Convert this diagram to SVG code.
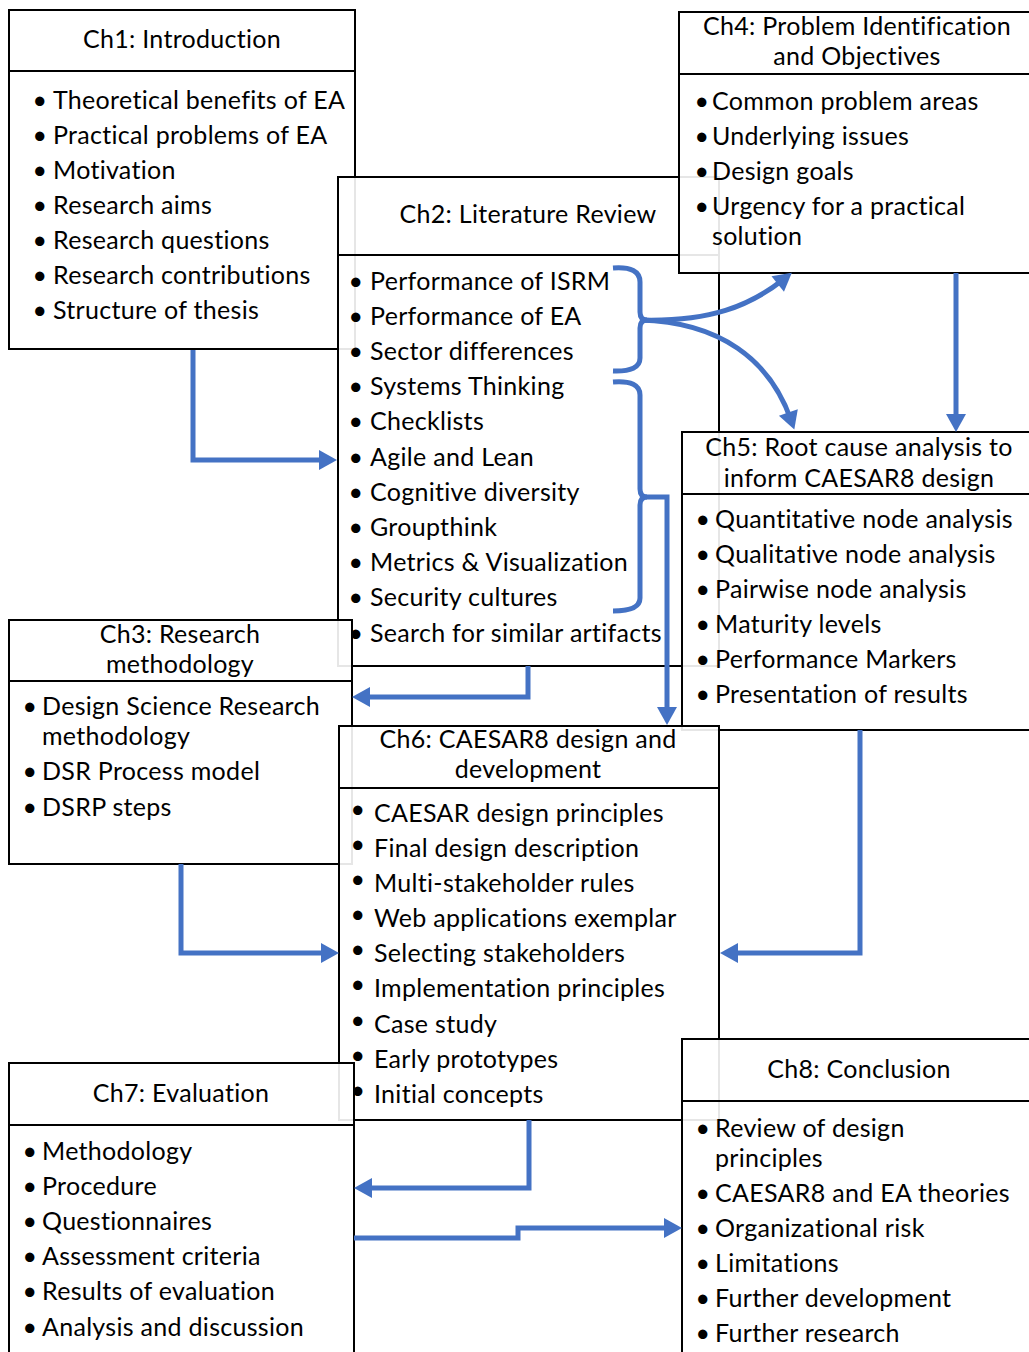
<svg xmlns="http://www.w3.org/2000/svg" width="1029" height="1352" viewBox="0 0 1029 1352">
<style>
.box{fill:#fff;fill-opacity:0.9;stroke:#000;stroke-width:2}
.div{stroke:#000;stroke-width:2}
text{font-family:Lato,"Liberation Sans",sans-serif;font-size:25px;letter-spacing:0.3px;fill:#000}
.t{text-anchor:middle}
.b{text-anchor:middle}
.c{fill:none;stroke:#4472C4;stroke-width:5}
.ca{fill:none;stroke:#4472C4;stroke-width:5;marker-end:url(#ah)}
</style>
<defs>
<marker id="ah" markerUnits="userSpaceOnUse" markerWidth="20" markerHeight="22" refX="8" refY="10" orient="auto" overflow="visible">
<path d="M0,0 L18,10 L0,20 z" fill="#4472C4"/>
</marker>
</defs>
<rect width="1029" height="1352" fill="#fff"/>

<g id="ch1">
<rect class="box" x="9" y="10" width="346" height="339"/>
<line class="div" x1="9" y1="71" x2="355" y2="71"/>
<text class="t" x="182" y="48">Ch1: Introduction</text>
<text><tspan class="b" x="40" y="109">•</tspan><tspan x="53" y="109">Theoretical benefits of EA</tspan></text>
<text><tspan class="b" x="40" y="144">•</tspan><tspan x="53" y="144">Practical problems of EA</tspan></text>
<text><tspan class="b" x="40" y="179">•</tspan><tspan x="53" y="179">Motivation</tspan></text>
<text><tspan class="b" x="40" y="214">•</tspan><tspan x="53" y="214">Research aims</tspan></text>
<text><tspan class="b" x="40" y="249">•</tspan><tspan x="53" y="249">Research questions</tspan></text>
<text><tspan class="b" x="40" y="284">•</tspan><tspan x="53" y="284">Research contributions</tspan></text>
<text><tspan class="b" x="40" y="319">•</tspan><tspan x="53" y="319">Structure of thesis</tspan></text>
</g>

<g id="ch2">
<rect class="box" x="338" y="177" width="381" height="489"/>
<line class="div" x1="338" y1="255" x2="719" y2="255"/>
<text class="t" x="528" y="223">Ch2: Literature Review</text>
<text><tspan class="b" x="356" y="290">•</tspan><tspan x="370" y="290">Performance of ISRM</tspan></text>
<text><tspan class="b" x="356" y="325">•</tspan><tspan x="370" y="325">Performance of EA</tspan></text>
<text><tspan class="b" x="356" y="360">•</tspan><tspan x="370" y="360">Sector differences</tspan></text>
<text><tspan class="b" x="356" y="395">•</tspan><tspan x="370" y="395">Systems Thinking</tspan></text>
<text><tspan class="b" x="356" y="430">•</tspan><tspan x="370" y="430">Checklists</tspan></text>
<text><tspan class="b" x="356" y="466">•</tspan><tspan x="370" y="466">Agile and Lean</tspan></text>
<text><tspan class="b" x="356" y="501">•</tspan><tspan x="370" y="501">Cognitive diversity</tspan></text>
<text><tspan class="b" x="356" y="536">•</tspan><tspan x="370" y="536">Groupthink</tspan></text>
<text><tspan class="b" x="356" y="571">•</tspan><tspan x="370" y="571">Metrics &amp; Visualization</tspan></text>
<text><tspan class="b" x="356" y="606">•</tspan><tspan x="370" y="606">Security cultures</tspan></text>
<text><tspan class="b" x="356" y="642">•</tspan><tspan x="370" y="642">Search for similar artifacts</tspan></text>
</g>

<g id="ch4">
<rect class="box" x="679" y="12" width="360" height="261"/>
<line class="div" x1="679" y1="74" x2="1029" y2="74"/>
<text class="t" x="857" y="35">Ch4: Problem Identification</text>
<text class="t" x="857" y="65">and Objectives</text>
<text><tspan class="b" x="702" y="110">•</tspan><tspan x="712" y="110">Common problem areas</tspan></text>
<text><tspan class="b" x="702" y="145">•</tspan><tspan x="712" y="145">Underlying issues</tspan></text>
<text><tspan class="b" x="702" y="180">•</tspan><tspan x="712" y="180">Design goals</tspan></text>
<text><tspan class="b" x="702" y="215">•</tspan><tspan x="712" y="215">Urgency for a practical</tspan></text>
<text x="712" y="245">solution</text>
</g>

<g id="ch5">
<rect class="box" x="682" y="432" width="360" height="298"/>
<line class="div" x1="682" y1="494" x2="1029" y2="494"/>
<text class="t" x="859" y="456">Ch5: Root cause analysis to</text>
<text class="t" x="859" y="487">inform CAESAR8 design</text>
<text><tspan class="b" x="703" y="528">•</tspan><tspan x="715" y="528">Quantitative node analysis</tspan></text>
<text><tspan class="b" x="703" y="563">•</tspan><tspan x="715" y="563">Qualitative node analysis</tspan></text>
<text><tspan class="b" x="703" y="598">•</tspan><tspan x="715" y="598">Pairwise node analysis</tspan></text>
<text><tspan class="b" x="703" y="633">•</tspan><tspan x="715" y="633">Maturity levels</tspan></text>
<text><tspan class="b" x="703" y="668">•</tspan><tspan x="715" y="668">Performance Markers</tspan></text>
<text><tspan class="b" x="703" y="703">•</tspan><tspan x="715" y="703">Presentation of results</tspan></text>
</g>

<g id="ch3">
<rect class="box" x="9" y="620" width="343" height="244"/>
<line class="div" x1="9" y1="681" x2="352" y2="681"/>
<text class="t" x="180" y="643">Ch3: Research</text>
<text class="t" x="180" y="673">methodology</text>
<text><tspan class="b" x="30" y="715">•</tspan><tspan x="42" y="715">Design Science Research</tspan></text>
<text x="42" y="745">methodology</text>
<text><tspan class="b" x="30" y="780">•</tspan><tspan x="42" y="780">DSR Process model</tspan></text>
<text><tspan class="b" x="30" y="816">•</tspan><tspan x="42" y="816">DSRP steps</tspan></text>
</g>

<g id="ch6">
<rect class="box" x="339" y="726" width="380" height="394"/>
<line class="div" x1="339" y1="788" x2="719" y2="788"/>
<text class="t" x="528" y="748">Ch6: CAESAR8 design and</text>
<text class="t" x="528" y="778">development</text>
<text><tspan class="b" x="358" y="818">•</tspan><tspan x="374" y="822">CAESAR design principles</tspan></text>
<text><tspan class="b" x="358" y="853">•</tspan><tspan x="374" y="857">Final design description</tspan></text>
<text><tspan class="b" x="358" y="888">•</tspan><tspan x="374" y="892">Multi-stakeholder rules</tspan></text>
<text><tspan class="b" x="358" y="923">•</tspan><tspan x="374" y="927">Web applications exemplar</tspan></text>
<text><tspan class="b" x="358" y="958">•</tspan><tspan x="374" y="962">Selecting stakeholders</tspan></text>
<text><tspan class="b" x="358" y="993">•</tspan><tspan x="374" y="997">Implementation principles</tspan></text>
<text><tspan class="b" x="358" y="1029">•</tspan><tspan x="374" y="1033">Case study</tspan></text>
<text><tspan class="b" x="358" y="1064">•</tspan><tspan x="374" y="1068">Early prototypes</tspan></text>
<text><tspan class="b" x="358" y="1099">•</tspan><tspan x="374" y="1103">Initial concepts</tspan></text>
</g>

<g id="ch7">
<rect class="box" x="9" y="1063" width="345" height="300"/>
<line class="div" x1="9" y1="1125" x2="354" y2="1125"/>
<text class="t" x="181" y="1102">Ch7: Evaluation</text>
<text><tspan class="b" x="30" y="1160">•</tspan><tspan x="42" y="1160">Methodology</tspan></text>
<text><tspan class="b" x="30" y="1195">•</tspan><tspan x="42" y="1195">Procedure</tspan></text>
<text><tspan class="b" x="30" y="1230">•</tspan><tspan x="42" y="1230">Questionnaires</tspan></text>
<text><tspan class="b" x="30" y="1265">•</tspan><tspan x="42" y="1265">Assessment criteria</tspan></text>
<text><tspan class="b" x="30" y="1300">•</tspan><tspan x="42" y="1300">Results of evaluation</tspan></text>
<text><tspan class="b" x="30" y="1336">•</tspan><tspan x="42" y="1336">Analysis and discussion</tspan></text>
</g>

<g id="ch8">
<rect class="box" x="682" y="1039" width="360" height="330"/>
<line class="div" x1="682" y1="1101" x2="1029" y2="1101"/>
<text class="t" x="859" y="1078">Ch8: Conclusion</text>
<text><tspan class="b" x="703" y="1137">•</tspan><tspan x="715" y="1137">Review of design</tspan></text>
<text x="715" y="1167">principles</text>
<text><tspan class="b" x="703" y="1202">•</tspan><tspan x="715" y="1202">CAESAR8 and EA theories</tspan></text>
<text><tspan class="b" x="703" y="1237">•</tspan><tspan x="715" y="1237">Organizational risk</tspan></text>
<text><tspan class="b" x="703" y="1272">•</tspan><tspan x="715" y="1272">Limitations</tspan></text>
<text><tspan class="b" x="703" y="1307">•</tspan><tspan x="715" y="1307">Further development</tspan></text>
<text><tspan class="b" x="703" y="1342">•</tspan><tspan x="715" y="1342">Further research</tspan></text>
</g>

<g id="connectors">
<path class="ca" d="M193,350 V460 H327"/>
<path class="c" d="M613,268 Q640,266 640,282 L640,312 Q640,320 647,320 Q640,320 640,328 L640,358 Q640,372 613,371"/>
<path class="ca" d="M640,320 C710,322 750,306 784,279"/>
<path class="ca" d="M640,320 C720,322 770,360 791,420"/>
<path class="ca" d="M956,273 V422"/>
<path class="c" d="M613,382 Q640,380 640,395 L640,489 Q640,497 647,497 Q640,497 640,505 L640,598 Q640,611 613,611"/>
<path class="ca" d="M640,497 H667 V715"/>
<path class="ca" d="M528,666 V697 H362"/>
<path class="ca" d="M181,864 V953 H329"/>
<path class="ca" d="M860,730 V953 H730"/>
<path class="ca" d="M529,1120 V1188 H364"/>
<path class="ca" d="M354,1238 H518 V1228 H672"/>
</g>
</svg>
